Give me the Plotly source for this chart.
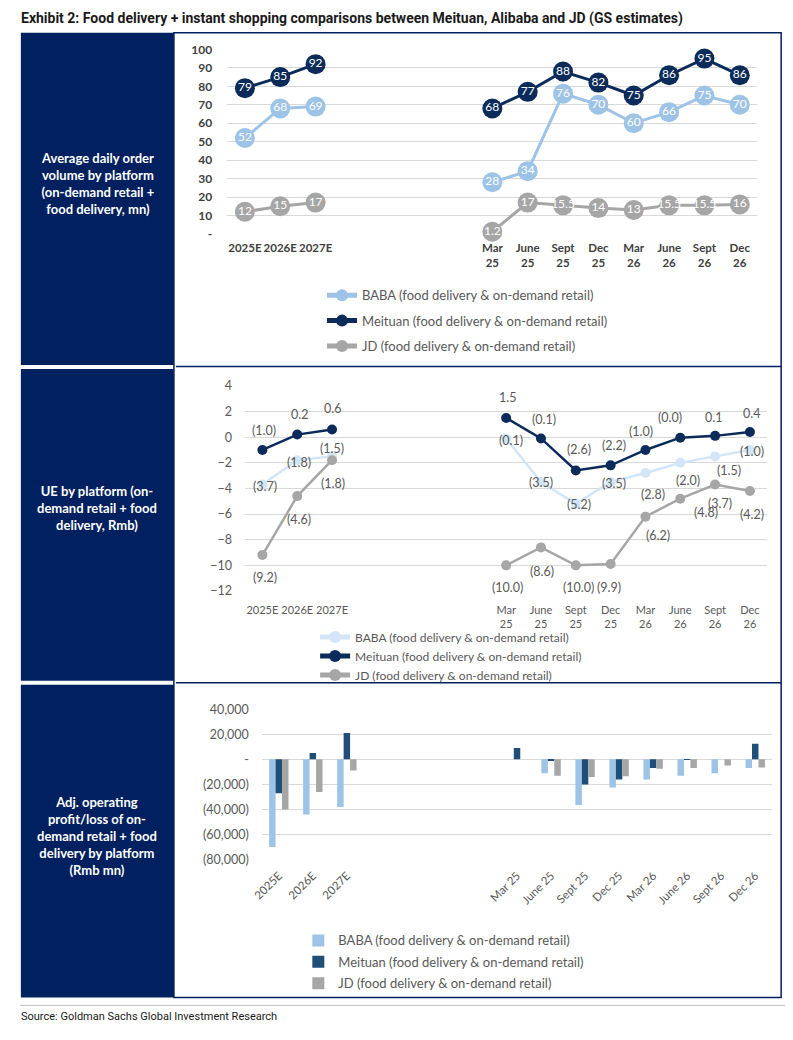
import plotly.graph_objects as go

W, H = 793, 1040

# ---------------- data ----------------
years = ["2025E", "2026E", "2027E"]
quarters = ["Mar 25", "June 25", "Sept 25", "Dec 25", "Mar 26", "June 26", "Sept 26", "Dec 26"]
spacers = ["gap1", "gap2", "gap3", "gap4"]

series_names = ["BABA (food delivery & on-demand retail)",
                "Meituan (food delivery & on-demand retail)",
                "JD (food delivery & on-demand retail)"]

# Average daily order volume (mn)
orders_baba_y = [52, 68, 69]
orders_baba_q = [28, 34, 76, 70, 60, 66, 75, 70]
orders_meituan_y = [79, 85, 92]
orders_meituan_q = [68, 77, 88, 82, 75, 86, 95, 86]
orders_jd_y = [12, 15, 17]
orders_jd_q = [1.2, 17, 15.5, 14, 13, 15.5, 15.5, 16]

# UE (Rmb)
ue_baba_y = [-3.7, -1.8, -1.5]
ue_baba_q = [-0.1, -3.5, -5.2, -3.5, -2.8, -2.0, -1.5, -1.0]
ue_meituan_y = [-1.0, 0.2, 0.6]
ue_meituan_q = [1.5, -0.1, -2.6, -2.2, -1.0, -0.04, 0.1, 0.4]
ue_jd_y = [-9.2, -4.6, -1.8]
ue_jd_q = [-10.0, -8.6, -10.0, -9.9, -6.2, -4.8, -3.7, -4.2]

# Adj. operating profit/loss (Rmb mn)
op_baba_y = [-70000, -44000, -38000]
op_baba_q = [None, -11000, -36500, -22500, -16000, -13000, -11000, -7000]
op_meituan_y = [-27000, 5000, 21000]
op_meituan_q = [9000, -1000, -20000, -16000, -7000, -400, 0, 12500]
op_jd_y = [-40000, -26000, -9000]
op_jd_q = [None, -13000, -14000, -13500, -7500, -7000, -5000, -6500]

orders_ticks = [0, 10, 20, 30, 40, 50, 60, 70, 80, 90, 100]
orders_ticktext = ["-", "10", "20", "30", "40", "50", "60", "70", "80", "90", "100"]
ue_ticks = [-12, -10, -8, -6, -4, -2, 0, 2, 4]
op_ticks = [-80000, -60000, -40000, -20000, 0, 20000, 40000]
op_ticktext = ["(80,000)", "(60,000)", "(40,000)", "(20,000)", "-", "20,000", "40,000"]

panel_titles = [
    "Average daily order<br>volume by platform<br>(on-demand retail +<br>food delivery, mn)",
    "UE by platform (on-<br>demand retail + food<br>delivery, Rmb)",
    "Adj. operating<br>profit/loss of on-<br>demand retail + food<br>delivery by platform<br>(Rmb mn)",
]
title_text = "Exhibit 2: Food delivery + instant shopping comparisons between Meituan, Alibaba and JD (GS estimates)"
source_text = "Source: Goldman Sachs Global Investment Research"

# ---------------- styling ----------------
NAVY_PANEL = "#002060"
C_BABA = "#9DC3E6"
C_BABA_LIGHT = "#D2E6F8"
C_MEI = "#0B2C5A"
C_MEI_BAR = "#1F4E79"
C_JD = "#A6A6A6"
GRID = "#D9D9D9"
TXT = "#595959"
FONT = "Lato, 'Open Sans', sans-serif"
NARROW = "'Liberation Sans Narrow', 'Roboto', sans-serif"

cats = years + spacers + quarters
tick_two_line = years + [""] * 4 + [q.replace(" ", "<br>") for q in quarters]
tick_one_line = years + [""] * 4 + quarters
gapv = [None] * 4


def px(x):
    return x / W


def py(y):
    return 1 - y / H


def full(a, b):
    return a + gapv + b


fig = go.Figure()

# ---- top chart: order volume ----
top_series = [
    (series_names[0], full(orders_baba_y, orders_baba_q), C_BABA),
    (series_names[1], full(orders_meituan_y, orders_meituan_q), C_MEI),
    (series_names[2], full(orders_jd_y, orders_jd_q), C_JD),
]
for i, (name, vals, col) in enumerate(top_series):
    fig.add_trace(go.Scatter(
        x=cats, y=vals, mode="lines+markers+text",
        text=["" if v is None else f"{v:g}" for v in vals],
        textposition="middle center",
        textfont=dict(family=FONT, size=12, color="white"),
        line=dict(color=col, width=3), marker=dict(color=col, size=20),
        connectgaps=False, cliponaxis=False, showlegend=False,
        xaxis="x", yaxis="y", hoverinfo="skip"))
for i, (name, vals, col) in enumerate(top_series):
    fig.add_trace(go.Scatter(
        x=[None], y=[None], mode="lines+markers", name=name,
        line=dict(color=col, width=3), marker=dict(color=col, size=7),
        legend="legend", legendgroup=f"t{i}", xaxis="x", yaxis="y"))

# ---- middle chart: UE ----
mid_series = [
    (series_names[0], full(ue_baba_y, ue_baba_q), C_BABA_LIGHT),
    (series_names[1], full(ue_meituan_y, ue_meituan_q), C_MEI),
    (series_names[2], full(ue_jd_y, ue_jd_q), C_JD),
]
for i, (name, vals, col) in enumerate(mid_series):
    fig.add_trace(go.Scatter(
        x=cats, y=vals, mode="lines+markers", name=name,
        line=dict(color=col, width=2.5), marker=dict(color=col, size=10),
        connectgaps=False, cliponaxis=False,
        legend="legend2", legendgroup=f"m{i}", xaxis="x2", yaxis="y2", hoverinfo="skip"))

# label offsets (px) for middle chart labels
mid_offsets = [
    [(3, -2), (2, -2), (0, 8)] + [None] * 4 +
    [(5, -2), (0, 0), (3, -1), (3, -1), (8, -21), (8, -18), (14, -14), (2, -2)],
    [(2, 19), (2, 20), (0, 21)] + [None] * 4 +
    [(1, 20), (3, 19), (3, 21), (3, 20), (-4, 18), (-10, 20), (-2, 18), (2, 19)],
    [(3, -22), (2, -23), (1, -23)] + [None] * 4 +
    [(1, -22), (1, -24), (3, -22), (-2, -23), (13, -19), (26, -14), (5, -19), (2, -24)],
]


def acct(v):
    return f"({abs(v):.1f})" if v < 0 else f"{v:.1f}"


annotations = []
for (name, vals, col), offs in zip(mid_series, mid_offsets):
    for c, v, o in zip(cats, vals, offs):
        if v is None:
            continue
        annotations.append(dict(
            x=c, y=v, xref="x2", yref="y2", text=acct(v), showarrow=False,
            xshift=o[0], yshift=o[1], font=dict(family=FONT, size=12.5, color=TXT)))

# ---- bottom chart: operating profit ----
bot_series = [
    (series_names[0], full(op_baba_y, op_baba_q), C_BABA),
    (series_names[1], full(op_meituan_y, op_meituan_q), C_MEI_BAR),
    (series_names[2], full(op_jd_y, op_jd_q), C_JD),
]
for i, (name, vals, col) in enumerate(bot_series):
    fig.add_trace(go.Bar(
        x=cats, y=vals, name=name, marker=dict(color=col, line=dict(width=0)),
        legend="legend3", legendgroup=f"b{i}", xaxis="x3", yaxis="y3", hoverinfo="skip"))

# ---------------- shapes / frame ----------------
shapes = []
for (y0, y1) in [(26, 363), (367, 683), (687, 1004)]:
    shapes.append(dict(type="rect", xref="paper", yref="paper",
                       x0=px(11), x1=px(166), y0=py(y1), y1=py(y0),
                       fillcolor=NAVY_PANEL, line=dict(width=0), layer="below"))
shapes.append(dict(type="rect", xref="paper", yref="paper",
                   x0=px(166), x1=px(781), y0=py(1004), y1=py(26),
                   line=dict(color=NAVY_PANEL, width=1.5), fillcolor="rgba(0,0,0,0)"))
for yy in [364.5, 685]:
    shapes.append(dict(type="line", xref="paper", yref="paper",
                       x0=px(168), x1=px(781), y0=py(yy), y1=py(yy),
                       line=dict(color=NAVY_PANEL, width=1.5)))
shapes.append(dict(type="line", xref="paper", yref="paper",
                   x0=px(10), x1=px(785), y0=py(1012), y1=py(1012),
                   line=dict(color="#BFBFBF", width=1)))

for t, yc in zip(panel_titles, [178.5, 508, 840]):
    annotations.append(dict(x=px(88.5), y=py(yc), xref="paper", yref="paper",
                            text=f"<b>{t}</b>", showarrow=False, align="center",
                            xanchor="center", yanchor="middle",
                            font=dict(family=FONT, size=13, color="white")))
annotations.append(dict(x=px(9), y=py(12), xref="paper", yref="paper",
                        text=f"<b>{title_text}</b>", showarrow=False,
                        xanchor="left", yanchor="middle",
                        font=dict(family=NARROW, size=14, color="#1a1a1a")))
annotations.append(dict(x=px(9), y=py(1023), xref="paper", yref="paper",
                        text=source_text, showarrow=False,
                        xanchor="left", yanchor="middle",
                        font=dict(family=NARROW, size=11, color="#1a1a1a")))

cat_range = [-0.5, len(cats) - 0.5]


def xaxis_common(domain, ticktext, font, anchor, angle=0, standoff=0):
    return dict(domain=domain, type="category", categoryorder="array", categoryarray=cats,
                range=cat_range, tickmode="array", tickvals=cats, ticktext=ticktext,
                showgrid=False, showline=False, zeroline=False, ticks="",
                tickfont=font, tickangle=angle, anchor=anchor, fixedrange=True,
                ticklabelstandoff=standoff)


fig.update_layout(
    width=W, height=H, margin=dict(l=0, r=0, t=0, b=0, pad=0),
    paper_bgcolor="white", plot_bgcolor="rgba(0,0,0,0)",
    font=dict(family=FONT, color=TXT),
    barmode="group", bargap=0.43, bargroupgap=0,
    xaxis=xaxis_common([px(220), px(757)], tick_two_line,
                       dict(family=FONT, size=11.5, color="#404040", weight="bold"), "y",
                       standoff=5),
    yaxis=dict(domain=[py(230.5), py(42.5)], range=[-0.25, 100.25], tickmode="array",
               tickvals=orders_ticks, ticktext=orders_ticktext, showgrid=True,
               gridcolor=GRID, gridwidth=1, zeroline=False, showline=False,
               tickfont=dict(family=FONT, size=12, color="#404040", weight="bold"),
               ticklabelstandoff=14, anchor="x", fixedrange=True),
    xaxis2=xaxis_common([px(238), px(767)], tick_two_line,
                        dict(family=FONT, size=11, color=TXT), "y2", standoff=10),
    yaxis2=dict(domain=[py(592.6), py(383.4)], range=[-12.05, 4.05], tickmode="array",
                tickvals=ue_ticks, showgrid=True, gridcolor=GRID, gridwidth=1,
                zeroline=False, showline=False,
                tickfont=dict(family=FONT, size=12.5, color=TXT),
                ticklabelstandoff=12, anchor="x2", fixedrange=True),
    xaxis3=xaxis_common([px(255), px(772)], tick_one_line,
                        dict(family=FONT, size=11.5, color=TXT), "y3", angle=-45,
                        standoff=6),
    yaxis3=dict(domain=[py(864.5), py(711.5)], range=[-80300, 40300], tickmode="array",
                tickvals=op_ticks, ticktext=op_ticktext, showgrid=True, gridcolor=GRID,
                gridwidth=1, zeroline=False, showline=False,
                tickfont=dict(family=FONT, size=12.5, color=TXT),
                ticklabelstandoff=12, anchor="x3", fixedrange=True),
    legend=dict(x=px(316), y=py(277), xanchor="left", yanchor="top",
                font=dict(family=FONT, size=13, color=TXT), bgcolor="rgba(0,0,0,0)",
                traceorder="grouped", tracegroupgap=5.5, itemsizing="constant"),
    legend2=dict(x=px(309), y=py(624), xanchor="left", yanchor="top",
                 font=dict(family=FONT, size=12, color=TXT), bgcolor="rgba(0,0,0,0)",
                 traceorder="grouped", tracegroupgap=0, itemsizing="constant"),
    legend3=dict(x=px(292), y=py(931), xanchor="left", yanchor="top",
                 font=dict(family=FONT, size=13, color=TXT), bgcolor="rgba(0,0,0,0)",
                 traceorder="grouped", tracegroupgap=1.5, itemsizing="constant"),
    shapes=shapes, annotations=annotations, showlegend=True,
)

fig.write_html("out.html", config={"displayModeBar": False},
               post_script="document.body.style.margin='0';document.body.style.overflow='hidden';")
